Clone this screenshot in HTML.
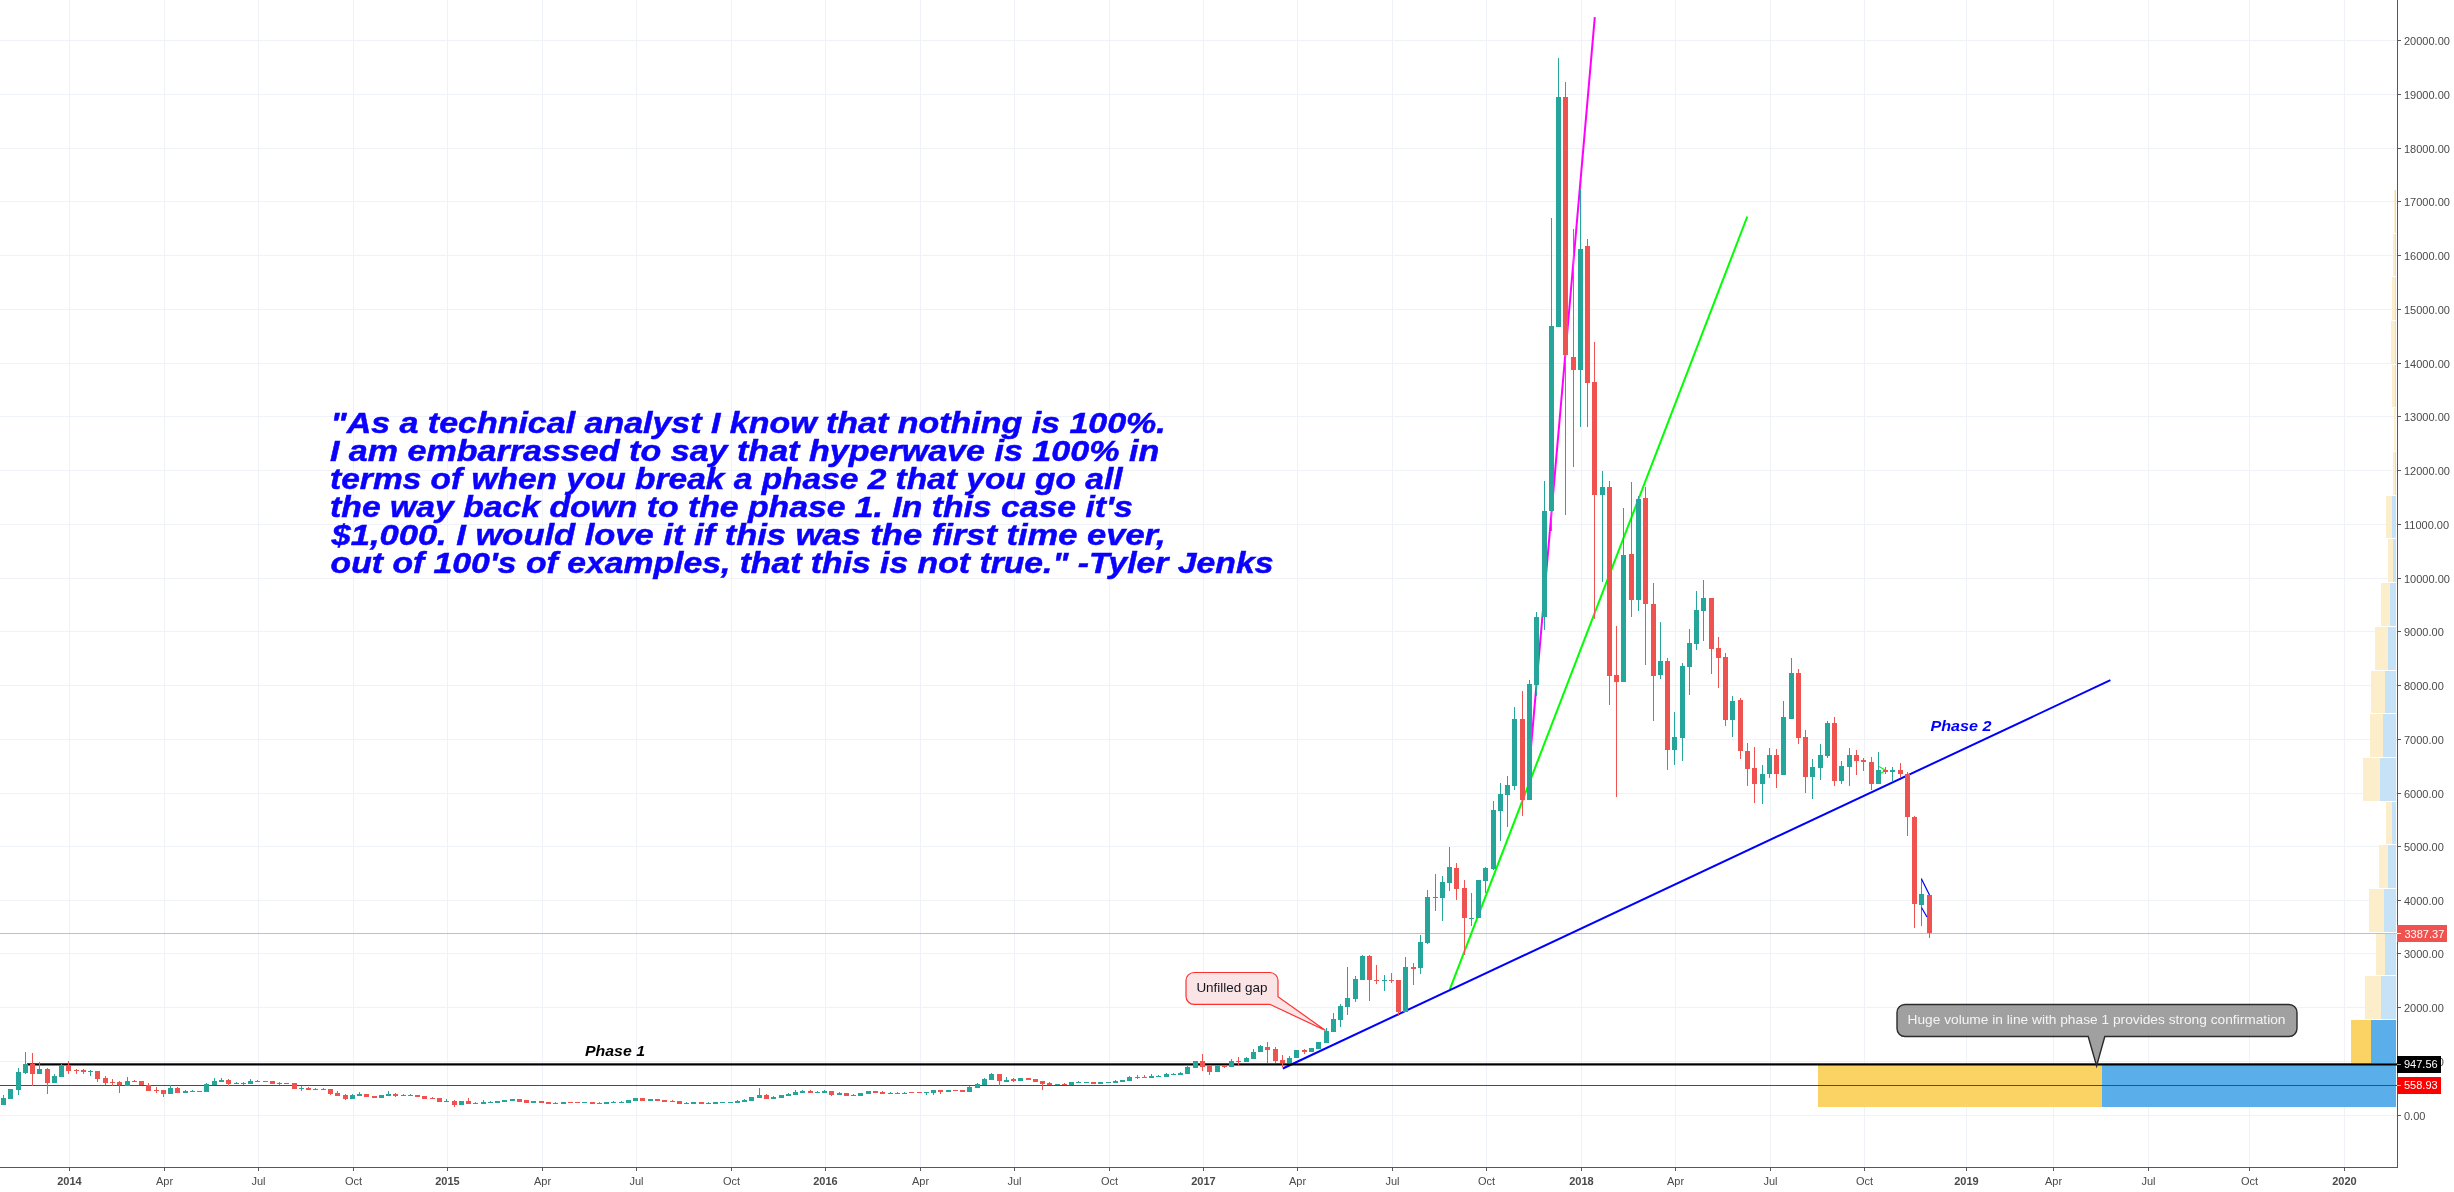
<!DOCTYPE html>
<html><head><meta charset="utf-8"><title>chart</title><style>
html,body{margin:0;padding:0;background:#fff;overflow:hidden;}
svg{display:block;will-change:transform;}
text{font-family:"Liberation Sans",sans-serif;}
</style></head><body>
<svg width="2454" height="1192" viewBox="0 0 2454 1192">
<rect x="0" y="0" width="2454" height="1192" fill="#ffffff"/>
<g fill="#eff2f6" shape-rendering="crispEdges"><rect x="0" y="1115" width="2397" height="1"/><rect x="0" y="1061" width="2397" height="1"/><rect x="0" y="1007" width="2397" height="1"/><rect x="0" y="953" width="2397" height="1"/><rect x="0" y="900" width="2397" height="1"/><rect x="0" y="846" width="2397" height="1"/><rect x="0" y="793" width="2397" height="1"/><rect x="0" y="739" width="2397" height="1"/><rect x="0" y="685" width="2397" height="1"/><rect x="0" y="631" width="2397" height="1"/><rect x="0" y="578" width="2397" height="1"/><rect x="0" y="524" width="2397" height="1"/><rect x="0" y="470" width="2397" height="1"/><rect x="0" y="416" width="2397" height="1"/><rect x="0" y="363" width="2397" height="1"/><rect x="0" y="309" width="2397" height="1"/><rect x="0" y="255" width="2397" height="1"/><rect x="0" y="201" width="2397" height="1"/><rect x="0" y="148" width="2397" height="1"/><rect x="0" y="94" width="2397" height="1"/><rect x="0" y="40" width="2397" height="1"/><rect x="69" y="0" width="1" height="1167"/><rect x="164" y="0" width="1" height="1167"/><rect x="258" y="0" width="1" height="1167"/><rect x="353" y="0" width="1" height="1167"/><rect x="447" y="0" width="1" height="1167"/><rect x="542" y="0" width="1" height="1167"/><rect x="636" y="0" width="1" height="1167"/><rect x="731" y="0" width="1" height="1167"/><rect x="825" y="0" width="1" height="1167"/><rect x="920" y="0" width="1" height="1167"/><rect x="1014" y="0" width="1" height="1167"/><rect x="1109" y="0" width="1" height="1167"/><rect x="1203" y="0" width="1" height="1167"/><rect x="1297" y="0" width="1" height="1167"/><rect x="1392" y="0" width="1" height="1167"/><rect x="1486" y="0" width="1" height="1167"/><rect x="1581" y="0" width="1" height="1167"/><rect x="1675" y="0" width="1" height="1167"/><rect x="1770" y="0" width="1" height="1167"/><rect x="1864" y="0" width="1" height="1167"/><rect x="1966" y="0" width="1" height="1167"/><rect x="2053" y="0" width="1" height="1167"/><rect x="2148" y="0" width="1" height="1167"/><rect x="2249" y="0" width="1" height="1167"/><rect x="2344" y="0" width="1" height="1167"/></g>
<g shape-rendering="crispEdges"><rect x="1818" y="1064" width="284" height="43" fill="#fbd365"/><rect x="2102" y="1064" width="294" height="43" fill="#5aafea"/><rect x="2351" y="1020" width="20" height="43" fill="#fbd365"/><rect x="2371" y="1020" width="25" height="43" fill="#5aafea"/><rect x="2365" y="976" width="16" height="43" fill="#fdeecb"/><rect x="2381" y="976" width="15" height="43" fill="#c6e2f7"/><rect x="2376" y="933" width="9" height="42" fill="#fdeecb"/><rect x="2385" y="933" width="11" height="42" fill="#c6e2f7"/><rect x="2369" y="889" width="15" height="43" fill="#fdeecb"/><rect x="2384" y="889" width="12" height="43" fill="#c6e2f7"/><rect x="2379" y="845" width="9" height="43" fill="#fdeecb"/><rect x="2388" y="845" width="8" height="43" fill="#c6e2f7"/><rect x="2386" y="802" width="6" height="42" fill="#fdeecb"/><rect x="2392" y="802" width="4" height="42" fill="#c6e2f7"/><rect x="2363" y="758" width="17" height="43" fill="#fdeecb"/><rect x="2380" y="758" width="16" height="43" fill="#c6e2f7"/><rect x="2370" y="714" width="13" height="43" fill="#fdeecb"/><rect x="2383" y="714" width="13" height="43" fill="#c6e2f7"/><rect x="2371" y="671" width="14" height="42" fill="#fdeecb"/><rect x="2385" y="671" width="11" height="42" fill="#c6e2f7"/><rect x="2375" y="627" width="13" height="43" fill="#fdeecb"/><rect x="2388" y="627" width="8" height="43" fill="#c6e2f7"/><rect x="2381" y="583" width="9" height="43" fill="#fdeecb"/><rect x="2390" y="583" width="6" height="43" fill="#c6e2f7"/><rect x="2388" y="539" width="5" height="43" fill="#fdeecb"/><rect x="2393" y="539" width="3" height="43" fill="#c6e2f7"/><rect x="2386" y="496" width="6" height="42" fill="#fdeecb"/><rect x="2392" y="496" width="4" height="42" fill="#c6e2f7"/><rect x="2393" y="452" width="2" height="43" fill="#fdeecb"/><rect x="2395" y="452" width="1" height="43" fill="#c6e2f7"/><rect x="2394" y="408" width="2" height="43" fill="#fdeecb"/><rect x="2396" y="408" width="0" height="43" fill="#c6e2f7"/><rect x="2392" y="365" width="3" height="42" fill="#fdeecb"/><rect x="2395" y="365" width="1" height="42" fill="#c6e2f7"/><rect x="2391" y="321" width="4" height="43" fill="#fdeecb"/><rect x="2395" y="321" width="1" height="43" fill="#c6e2f7"/><rect x="2392" y="277" width="3" height="43" fill="#fdeecb"/><rect x="2395" y="277" width="1" height="43" fill="#c6e2f7"/><rect x="2393" y="234" width="2" height="42" fill="#fdeecb"/><rect x="2395" y="234" width="1" height="42" fill="#c6e2f7"/><rect x="2394" y="190" width="1" height="43" fill="#fdeecb"/><rect x="2395" y="190" width="1" height="43" fill="#c6e2f7"/></g>
<rect x="0" y="933" width="2397" height="1" fill="#f7a9a8" shape-rendering="crispEdges"/>
<g fill="none" stroke-width="2" stroke-linecap="butt">
<line x1="1529" y1="770" x2="1594.8" y2="17.1" stroke="#ff00ff"/>
<line x1="1449.8" y1="989.3" x2="1747.3" y2="216.5" stroke="#00ff00"/>
<line x1="1282.8" y1="1068.5" x2="2110.4" y2="680.2" stroke="#0000ff"/>
<line x1="1879" y1="766.4" x2="1885.5" y2="770.3" stroke="#00ff00" stroke-width="1.2"/>
<line x1="1880.5" y1="773.5" x2="1885.5" y2="770.6" stroke="#00ff00" stroke-width="1.2"/>
</g>
<rect x="0" y="1085" width="2397" height="1" fill="#ff0000" shape-rendering="crispEdges"/>
<rect x="27" y="1063.3" width="2370" height="2.2" fill="#000000"/>
<g fill="#26a69a" shape-rendering="crispEdges"><rect x="3" y="1095" width="1" height="3"/><rect x="1" y="1098" width="5" height="7"/><rect x="8" y="1089" width="5" height="10"/><rect x="18" y="1068" width="1" height="4"/><rect x="18" y="1090" width="1" height="5"/><rect x="16" y="1072" width="5" height="18"/><rect x="25" y="1052" width="1" height="12"/><rect x="25" y="1073" width="1" height="1"/><rect x="23" y="1064" width="5" height="9"/><rect x="39" y="1062" width="1" height="7"/><rect x="37" y="1069" width="5" height="5"/><rect x="54" y="1074" width="1" height="2"/><rect x="52" y="1076" width="5" height="7"/><rect x="61" y="1064" width="1" height="2"/><rect x="59" y="1066" width="5" height="11"/><rect x="90" y="1070" width="1" height="1"/><rect x="90" y="1072" width="1" height="4"/><rect x="88" y="1071" width="5" height="1"/><rect x="127" y="1077" width="1" height="4"/><rect x="125" y="1081" width="5" height="5"/><rect x="170" y="1085" width="1" height="3"/><rect x="168" y="1088" width="5" height="6"/><rect x="185" y="1090" width="1" height="1"/><rect x="183" y="1091" width="5" height="2"/><rect x="192" y="1090" width="1" height="1"/><rect x="190" y="1091" width="5" height="1"/><rect x="197" y="1091" width="5" height="1"/><rect x="206" y="1083" width="1" height="1"/><rect x="204" y="1084" width="5" height="8"/><rect x="214" y="1078" width="1" height="3"/><rect x="212" y="1081" width="5" height="4"/><rect x="221" y="1078" width="1" height="2"/><rect x="219" y="1080" width="5" height="2"/><rect x="236" y="1082" width="1" height="1"/><rect x="234" y="1083" width="5" height="1"/><rect x="250" y="1079" width="1" height="2"/><rect x="248" y="1081" width="5" height="3"/><rect x="284" y="1083" width="5" height="1"/><rect x="301" y="1086" width="1" height="2"/><rect x="301" y="1089" width="1" height="2"/><rect x="299" y="1088" width="5" height="1"/><rect x="352" y="1094" width="1" height="1"/><rect x="350" y="1095" width="5" height="4"/><rect x="359" y="1092" width="1" height="2"/><rect x="357" y="1094" width="5" height="2"/><rect x="379" y="1095" width="5" height="3"/><rect x="388" y="1091" width="1" height="3"/><rect x="386" y="1094" width="5" height="2"/><rect x="403" y="1094" width="1" height="1"/><rect x="401" y="1095" width="5" height="1"/><rect x="410" y="1094" width="1" height="1"/><rect x="408" y="1095" width="5" height="1"/><rect x="446" y="1099" width="1" height="2"/><rect x="444" y="1101" width="5" height="1"/><rect x="459" y="1101" width="5" height="4"/><rect x="483" y="1100" width="1" height="2"/><rect x="481" y="1102" width="5" height="2"/><rect x="490" y="1101" width="1" height="1"/><rect x="488" y="1102" width="5" height="1"/><rect x="495" y="1101" width="5" height="2"/><rect x="502" y="1100" width="5" height="2"/><rect x="510" y="1099" width="5" height="2"/><rect x="531" y="1101" width="5" height="2"/><rect x="561" y="1102" width="5" height="2"/><rect x="582" y="1102" width="5" height="1"/><rect x="604" y="1102" width="5" height="2"/><rect x="613" y="1101" width="1" height="1"/><rect x="611" y="1102" width="5" height="1"/><rect x="621" y="1101" width="1" height="1"/><rect x="619" y="1102" width="5" height="1"/><rect x="626" y="1100" width="5" height="3"/><rect x="633" y="1098" width="5" height="3"/><rect x="648" y="1099" width="5" height="2"/><rect x="686" y="1102" width="1" height="1"/><rect x="684" y="1103" width="5" height="1"/><rect x="691" y="1102" width="5" height="2"/><rect x="708" y="1102" width="1" height="1"/><rect x="706" y="1103" width="5" height="1"/><rect x="713" y="1102" width="5" height="2"/><rect x="720" y="1102" width="5" height="1"/><rect x="728" y="1102" width="5" height="1"/><rect x="737" y="1100" width="1" height="1"/><rect x="735" y="1101" width="5" height="2"/><rect x="744" y="1099" width="1" height="1"/><rect x="742" y="1100" width="5" height="2"/><rect x="749" y="1097" width="5" height="4"/><rect x="759" y="1088" width="1" height="7"/><rect x="757" y="1095" width="5" height="3"/><rect x="773" y="1096" width="1" height="1"/><rect x="771" y="1097" width="5" height="2"/><rect x="779" y="1095" width="5" height="3"/><rect x="788" y="1093" width="1" height="1"/><rect x="786" y="1094" width="5" height="2"/><rect x="795" y="1090" width="1" height="2"/><rect x="793" y="1092" width="5" height="3"/><rect x="802" y="1090" width="1" height="1"/><rect x="800" y="1091" width="5" height="2"/><rect x="817" y="1091" width="1" height="1"/><rect x="815" y="1092" width="5" height="1"/><rect x="824" y="1090" width="1" height="1"/><rect x="822" y="1091" width="5" height="2"/><rect x="839" y="1092" width="1" height="1"/><rect x="837" y="1093" width="5" height="2"/><rect x="853" y="1094" width="1" height="1"/><rect x="851" y="1095" width="5" height="1"/><rect x="858" y="1093" width="5" height="3"/><rect x="866" y="1091" width="5" height="3"/><rect x="890" y="1092" width="1" height="1"/><rect x="888" y="1093" width="5" height="1"/><rect x="904" y="1092" width="1" height="1"/><rect x="902" y="1093" width="5" height="1"/><rect x="926" y="1093" width="1" height="2"/><rect x="924" y="1092" width="5" height="1"/><rect x="933" y="1093" width="1" height="2"/><rect x="931" y="1090" width="5" height="3"/><rect x="946" y="1090" width="5" height="2"/><rect x="969" y="1086" width="1" height="1"/><rect x="967" y="1087" width="5" height="5"/><rect x="977" y="1083" width="1" height="1"/><rect x="975" y="1084" width="5" height="4"/><rect x="984" y="1078" width="1" height="1"/><rect x="982" y="1079" width="5" height="6"/><rect x="991" y="1073" width="1" height="1"/><rect x="989" y="1074" width="5" height="6"/><rect x="1006" y="1077" width="1" height="3"/><rect x="1004" y="1080" width="5" height="2"/><rect x="1018" y="1078" width="5" height="3"/><rect x="1055" y="1084" width="5" height="1"/><rect x="1069" y="1082" width="5" height="3"/><rect x="1078" y="1081" width="1" height="1"/><rect x="1076" y="1082" width="5" height="1"/><rect x="1084" y="1082" width="5" height="1"/><rect x="1098" y="1082" width="5" height="2"/><rect x="1106" y="1082" width="5" height="1"/><rect x="1115" y="1080" width="1" height="1"/><rect x="1113" y="1081" width="5" height="2"/><rect x="1120" y="1080" width="5" height="2"/><rect x="1129" y="1076" width="1" height="1"/><rect x="1127" y="1077" width="5" height="4"/><rect x="1137" y="1075" width="1" height="2"/><rect x="1137" y="1078" width="1" height="1"/><rect x="1135" y="1077" width="5" height="1"/><rect x="1151" y="1074" width="1" height="2"/><rect x="1149" y="1076" width="5" height="2"/><rect x="1158" y="1075" width="1" height="1"/><rect x="1156" y="1076" width="5" height="1"/><rect x="1166" y="1073" width="1" height="1"/><rect x="1164" y="1074" width="5" height="3"/><rect x="1173" y="1073" width="1" height="1"/><rect x="1171" y="1074" width="5" height="1"/><rect x="1180" y="1072" width="1" height="1"/><rect x="1178" y="1073" width="5" height="2"/><rect x="1187" y="1065" width="1" height="2"/><rect x="1185" y="1067" width="5" height="7"/><rect x="1193" y="1061" width="5" height="7"/><rect x="1215" y="1065" width="5" height="7"/><rect x="1231" y="1059" width="1" height="2"/><rect x="1229" y="1061" width="5" height="6"/><rect x="1246" y="1057" width="1" height="1"/><rect x="1244" y="1058" width="5" height="4"/><rect x="1253" y="1049" width="1" height="3"/><rect x="1251" y="1052" width="5" height="7"/><rect x="1260" y="1045" width="1" height="1"/><rect x="1258" y="1046" width="5" height="6"/><rect x="1289" y="1056" width="1" height="2"/><rect x="1287" y="1058" width="5" height="5"/><rect x="1294" y="1050" width="5" height="8"/><rect x="1309" y="1048" width="5" height="4"/><rect x="1316" y="1042" width="5" height="7"/><rect x="1326" y="1028" width="1" height="3"/><rect x="1324" y="1031" width="5" height="12"/><rect x="1333" y="1013" width="1" height="6"/><rect x="1331" y="1019" width="5" height="13"/><rect x="1340" y="1004" width="1" height="2"/><rect x="1340" y="1020" width="1" height="7"/><rect x="1338" y="1006" width="5" height="14"/><rect x="1347" y="967" width="1" height="31"/><rect x="1347" y="1007" width="1" height="8"/><rect x="1345" y="998" width="5" height="9"/><rect x="1355" y="976" width="1" height="3"/><rect x="1355" y="999" width="1" height="3"/><rect x="1353" y="979" width="5" height="20"/><rect x="1362" y="955" width="1" height="1"/><rect x="1360" y="956" width="5" height="24"/><rect x="1384" y="975" width="1" height="5"/><rect x="1384" y="981" width="1" height="10"/><rect x="1382" y="980" width="5" height="1"/><rect x="1405" y="957" width="1" height="10"/><rect x="1403" y="967" width="5" height="45"/><rect x="1420" y="935" width="1" height="7"/><rect x="1420" y="968" width="1" height="6"/><rect x="1418" y="942" width="5" height="26"/><rect x="1427" y="890" width="1" height="7"/><rect x="1427" y="943" width="1" height="1"/><rect x="1425" y="897" width="5" height="46"/><rect x="1435" y="874" width="1" height="23"/><rect x="1435" y="898" width="1" height="13"/><rect x="1433" y="897" width="5" height="1"/><rect x="1442" y="876" width="1" height="6"/><rect x="1442" y="898" width="1" height="23"/><rect x="1440" y="882" width="5" height="16"/><rect x="1449" y="847" width="1" height="20"/><rect x="1449" y="883" width="1" height="8"/><rect x="1447" y="867" width="5" height="16"/><rect x="1471" y="893" width="1" height="25"/><rect x="1471" y="919" width="1" height="7"/><rect x="1469" y="918" width="5" height="1"/><rect x="1476" y="880" width="5" height="38"/><rect x="1485" y="867" width="1" height="1"/><rect x="1485" y="881" width="1" height="12"/><rect x="1483" y="868" width="5" height="13"/><rect x="1493" y="801" width="1" height="9"/><rect x="1493" y="869" width="1" height="1"/><rect x="1491" y="810" width="5" height="59"/><rect x="1500" y="783" width="1" height="11"/><rect x="1500" y="811" width="1" height="30"/><rect x="1498" y="794" width="5" height="17"/><rect x="1507" y="776" width="1" height="9"/><rect x="1507" y="795" width="1" height="32"/><rect x="1505" y="785" width="5" height="10"/><rect x="1514" y="707" width="1" height="12"/><rect x="1514" y="786" width="1" height="4"/><rect x="1512" y="719" width="5" height="67"/><rect x="1529" y="680" width="1" height="4"/><rect x="1527" y="684" width="5" height="116"/><rect x="1536" y="612" width="1" height="5"/><rect x="1536" y="685" width="1" height="11"/><rect x="1534" y="617" width="5" height="68"/><rect x="1544" y="481" width="1" height="30"/><rect x="1544" y="617" width="1" height="13"/><rect x="1542" y="511" width="5" height="106"/><rect x="1551" y="218" width="1" height="108"/><rect x="1551" y="511" width="1" height="20"/><rect x="1549" y="326" width="5" height="185"/><rect x="1558" y="58" width="1" height="39"/><rect x="1556" y="97" width="5" height="230"/><rect x="1580" y="189" width="1" height="60"/><rect x="1580" y="370" width="1" height="57"/><rect x="1578" y="249" width="5" height="121"/><rect x="1602" y="471" width="1" height="16"/><rect x="1602" y="495" width="1" height="87"/><rect x="1600" y="487" width="5" height="8"/><rect x="1623" y="508" width="1" height="47"/><rect x="1621" y="555" width="5" height="127"/><rect x="1638" y="496" width="1" height="3"/><rect x="1638" y="600" width="1" height="11"/><rect x="1636" y="499" width="5" height="101"/><rect x="1660" y="622" width="1" height="39"/><rect x="1660" y="675" width="1" height="4"/><rect x="1658" y="661" width="5" height="14"/><rect x="1674" y="712" width="1" height="25"/><rect x="1674" y="750" width="1" height="15"/><rect x="1672" y="737" width="5" height="13"/><rect x="1682" y="663" width="1" height="3"/><rect x="1682" y="738" width="1" height="23"/><rect x="1680" y="666" width="5" height="72"/><rect x="1689" y="629" width="1" height="14"/><rect x="1689" y="667" width="1" height="28"/><rect x="1687" y="643" width="5" height="24"/><rect x="1696" y="591" width="1" height="19"/><rect x="1696" y="644" width="1" height="6"/><rect x="1694" y="610" width="5" height="34"/><rect x="1703" y="580" width="1" height="18"/><rect x="1703" y="611" width="1" height="30"/><rect x="1701" y="598" width="5" height="13"/><rect x="1732" y="696" width="1" height="5"/><rect x="1732" y="720" width="1" height="17"/><rect x="1730" y="701" width="5" height="19"/><rect x="1762" y="765" width="1" height="9"/><rect x="1762" y="784" width="1" height="20"/><rect x="1760" y="774" width="5" height="10"/><rect x="1769" y="748" width="1" height="7"/><rect x="1769" y="774" width="1" height="4"/><rect x="1767" y="755" width="5" height="19"/><rect x="1783" y="701" width="1" height="16"/><rect x="1781" y="717" width="5" height="58"/><rect x="1791" y="658" width="1" height="15"/><rect x="1789" y="673" width="5" height="46"/><rect x="1812" y="759" width="1" height="8"/><rect x="1812" y="777" width="1" height="22"/><rect x="1810" y="767" width="5" height="10"/><rect x="1820" y="744" width="1" height="11"/><rect x="1820" y="768" width="1" height="12"/><rect x="1818" y="755" width="5" height="13"/><rect x="1827" y="721" width="1" height="2"/><rect x="1827" y="756" width="1" height="2"/><rect x="1825" y="723" width="5" height="33"/><rect x="1841" y="761" width="1" height="5"/><rect x="1841" y="781" width="1" height="3"/><rect x="1839" y="766" width="5" height="15"/><rect x="1849" y="748" width="1" height="7"/><rect x="1849" y="767" width="1" height="19"/><rect x="1847" y="755" width="5" height="12"/><rect x="1878" y="752" width="1" height="18"/><rect x="1876" y="770" width="5" height="14"/><rect x="1892" y="767" width="1" height="3"/><rect x="1892" y="772" width="1" height="9"/><rect x="1890" y="770" width="5" height="2"/><rect x="1921" y="878" width="1" height="16"/><rect x="1921" y="905" width="1" height="21"/><rect x="1919" y="894" width="5" height="11"/></g>
<g fill="#ef5350" shape-rendering="crispEdges"><rect x="32" y="1053" width="1" height="11"/><rect x="32" y="1074" width="1" height="12"/><rect x="30" y="1064" width="5" height="10"/><rect x="47" y="1068" width="1" height="1"/><rect x="47" y="1083" width="1" height="11"/><rect x="45" y="1069" width="5" height="14"/><rect x="68" y="1061" width="1" height="5"/><rect x="68" y="1071" width="1" height="3"/><rect x="66" y="1066" width="5" height="5"/><rect x="76" y="1069" width="1" height="1"/><rect x="76" y="1071" width="1" height="3"/><rect x="74" y="1070" width="5" height="1"/><rect x="83" y="1069" width="1" height="1"/><rect x="83" y="1072" width="1" height="2"/><rect x="81" y="1070" width="5" height="2"/><rect x="97" y="1079" width="1" height="3"/><rect x="95" y="1071" width="5" height="8"/><rect x="105" y="1076" width="1" height="2"/><rect x="105" y="1083" width="1" height="2"/><rect x="103" y="1078" width="5" height="5"/><rect x="112" y="1079" width="1" height="3"/><rect x="112" y="1083" width="1" height="3"/><rect x="110" y="1082" width="5" height="1"/><rect x="119" y="1081" width="1" height="1"/><rect x="119" y="1085" width="1" height="8"/><rect x="117" y="1082" width="5" height="3"/><rect x="134" y="1080" width="1" height="1"/><rect x="132" y="1081" width="5" height="1"/><rect x="139" y="1081" width="5" height="4"/><rect x="148" y="1083" width="1" height="2"/><rect x="146" y="1085" width="5" height="6"/><rect x="156" y="1087" width="1" height="3"/><rect x="156" y="1091" width="1" height="2"/><rect x="154" y="1090" width="5" height="1"/><rect x="163" y="1094" width="1" height="3"/><rect x="161" y="1090" width="5" height="4"/><rect x="177" y="1087" width="1" height="1"/><rect x="175" y="1088" width="5" height="5"/><rect x="228" y="1079" width="1" height="1"/><rect x="228" y="1084" width="1" height="2"/><rect x="226" y="1080" width="5" height="4"/><rect x="243" y="1082" width="1" height="1"/><rect x="243" y="1084" width="1" height="1"/><rect x="241" y="1083" width="5" height="1"/><rect x="257" y="1080" width="1" height="1"/><rect x="255" y="1081" width="5" height="1"/><rect x="263" y="1081" width="5" height="1"/><rect x="270" y="1081" width="5" height="3"/><rect x="279" y="1082" width="1" height="1"/><rect x="279" y="1084" width="1" height="1"/><rect x="277" y="1083" width="5" height="1"/><rect x="292" y="1083" width="5" height="6"/><rect x="308" y="1087" width="1" height="1"/><rect x="306" y="1088" width="5" height="2"/><rect x="315" y="1088" width="1" height="1"/><rect x="313" y="1089" width="5" height="1"/><rect x="323" y="1088" width="1" height="1"/><rect x="321" y="1089" width="5" height="1"/><rect x="330" y="1094" width="1" height="1"/><rect x="328" y="1089" width="5" height="5"/><rect x="337" y="1091" width="1" height="2"/><rect x="335" y="1093" width="5" height="3"/><rect x="345" y="1094" width="1" height="1"/><rect x="345" y="1099" width="1" height="1"/><rect x="343" y="1095" width="5" height="4"/><rect x="364" y="1094" width="5" height="3"/><rect x="372" y="1096" width="5" height="2"/><rect x="395" y="1093" width="1" height="1"/><rect x="395" y="1096" width="1" height="1"/><rect x="393" y="1094" width="5" height="2"/><rect x="415" y="1095" width="5" height="2"/><rect x="422" y="1096" width="5" height="3"/><rect x="432" y="1097" width="1" height="1"/><rect x="430" y="1098" width="5" height="1"/><rect x="437" y="1098" width="5" height="4"/><rect x="454" y="1100" width="1" height="1"/><rect x="454" y="1105" width="1" height="2"/><rect x="452" y="1101" width="5" height="4"/><rect x="468" y="1098" width="1" height="3"/><rect x="466" y="1101" width="5" height="3"/><rect x="475" y="1102" width="1" height="1"/><rect x="473" y="1103" width="5" height="1"/><rect x="517" y="1099" width="5" height="3"/><rect x="524" y="1100" width="5" height="3"/><rect x="539" y="1101" width="5" height="2"/><rect x="546" y="1102" width="5" height="2"/><rect x="555" y="1102" width="1" height="1"/><rect x="553" y="1103" width="5" height="1"/><rect x="568" y="1102" width="5" height="1"/><rect x="575" y="1102" width="5" height="1"/><rect x="590" y="1102" width="5" height="2"/><rect x="599" y="1102" width="1" height="1"/><rect x="597" y="1103" width="5" height="1"/><rect x="640" y="1098" width="5" height="3"/><rect x="655" y="1099" width="5" height="2"/><rect x="662" y="1100" width="5" height="2"/><rect x="672" y="1100" width="1" height="1"/><rect x="670" y="1101" width="5" height="1"/><rect x="677" y="1101" width="5" height="3"/><rect x="699" y="1102" width="5" height="2"/><rect x="766" y="1094" width="1" height="1"/><rect x="764" y="1095" width="5" height="4"/><rect x="810" y="1090" width="1" height="1"/><rect x="808" y="1091" width="5" height="2"/><rect x="831" y="1095" width="1" height="1"/><rect x="829" y="1091" width="5" height="4"/><rect x="844" y="1093" width="5" height="3"/><rect x="873" y="1091" width="5" height="2"/><rect x="882" y="1091" width="1" height="1"/><rect x="880" y="1092" width="5" height="2"/><rect x="897" y="1092" width="1" height="1"/><rect x="895" y="1093" width="5" height="1"/><rect x="909" y="1092" width="5" height="1"/><rect x="917" y="1092" width="5" height="1"/><rect x="940" y="1092" width="1" height="2"/><rect x="938" y="1090" width="5" height="2"/><rect x="953" y="1090" width="5" height="1"/><rect x="960" y="1090" width="5" height="2"/><rect x="999" y="1081" width="1" height="5"/><rect x="997" y="1074" width="5" height="7"/><rect x="1013" y="1078" width="1" height="1"/><rect x="1013" y="1081" width="1" height="1"/><rect x="1011" y="1079" width="5" height="2"/><rect x="1026" y="1078" width="5" height="2"/><rect x="1033" y="1079" width="5" height="3"/><rect x="1042" y="1084" width="1" height="6"/><rect x="1040" y="1081" width="5" height="3"/><rect x="1049" y="1082" width="1" height="1"/><rect x="1047" y="1083" width="5" height="2"/><rect x="1064" y="1083" width="1" height="1"/><rect x="1062" y="1084" width="5" height="1"/><rect x="1091" y="1082" width="5" height="2"/><rect x="1144" y="1075" width="1" height="2"/><rect x="1142" y="1077" width="5" height="1"/><rect x="1202" y="1054" width="1" height="7"/><rect x="1202" y="1067" width="1" height="4"/><rect x="1200" y="1061" width="5" height="6"/><rect x="1209" y="1072" width="1" height="3"/><rect x="1207" y="1066" width="5" height="6"/><rect x="1224" y="1067" width="1" height="1"/><rect x="1222" y="1065" width="5" height="2"/><rect x="1238" y="1057" width="1" height="4"/><rect x="1238" y="1062" width="1" height="4"/><rect x="1236" y="1061" width="5" height="1"/><rect x="1267" y="1042" width="1" height="5"/><rect x="1267" y="1050" width="1" height="13"/><rect x="1265" y="1047" width="5" height="3"/><rect x="1275" y="1047" width="1" height="2"/><rect x="1275" y="1061" width="1" height="2"/><rect x="1273" y="1049" width="5" height="12"/><rect x="1282" y="1055" width="1" height="5"/><rect x="1282" y="1063" width="1" height="4"/><rect x="1280" y="1060" width="5" height="3"/><rect x="1304" y="1049" width="1" height="1"/><rect x="1304" y="1052" width="1" height="2"/><rect x="1302" y="1050" width="5" height="2"/><rect x="1369" y="955" width="1" height="1"/><rect x="1369" y="980" width="1" height="21"/><rect x="1367" y="956" width="5" height="24"/><rect x="1376" y="965" width="1" height="15"/><rect x="1376" y="981" width="1" height="3"/><rect x="1374" y="980" width="5" height="1"/><rect x="1391" y="973" width="1" height="7"/><rect x="1391" y="981" width="1" height="2"/><rect x="1389" y="980" width="5" height="1"/><rect x="1398" y="1012" width="1" height="4"/><rect x="1396" y="980" width="5" height="32"/><rect x="1413" y="963" width="1" height="4"/><rect x="1413" y="969" width="1" height="16"/><rect x="1411" y="967" width="5" height="2"/><rect x="1456" y="863" width="1" height="5"/><rect x="1456" y="889" width="1" height="11"/><rect x="1454" y="868" width="5" height="21"/><rect x="1464" y="880" width="1" height="8"/><rect x="1464" y="918" width="1" height="37"/><rect x="1462" y="888" width="5" height="30"/><rect x="1522" y="691" width="1" height="28"/><rect x="1522" y="800" width="1" height="16"/><rect x="1520" y="719" width="5" height="81"/><rect x="1565" y="82" width="1" height="15"/><rect x="1565" y="355" width="1" height="160"/><rect x="1563" y="97" width="5" height="258"/><rect x="1573" y="229" width="1" height="128"/><rect x="1573" y="370" width="1" height="97"/><rect x="1571" y="357" width="5" height="13"/><rect x="1587" y="239" width="1" height="7"/><rect x="1587" y="383" width="1" height="44"/><rect x="1585" y="246" width="5" height="137"/><rect x="1594" y="342" width="1" height="40"/><rect x="1594" y="495" width="1" height="124"/><rect x="1592" y="382" width="5" height="113"/><rect x="1609" y="481" width="1" height="6"/><rect x="1609" y="676" width="1" height="29"/><rect x="1607" y="487" width="5" height="189"/><rect x="1616" y="626" width="1" height="49"/><rect x="1616" y="682" width="1" height="115"/><rect x="1614" y="675" width="5" height="7"/><rect x="1631" y="482" width="1" height="72"/><rect x="1631" y="600" width="1" height="17"/><rect x="1629" y="554" width="5" height="46"/><rect x="1645" y="487" width="1" height="11"/><rect x="1645" y="604" width="1" height="61"/><rect x="1643" y="498" width="5" height="106"/><rect x="1653" y="583" width="1" height="21"/><rect x="1653" y="676" width="1" height="45"/><rect x="1651" y="604" width="5" height="72"/><rect x="1667" y="658" width="1" height="3"/><rect x="1667" y="750" width="1" height="20"/><rect x="1665" y="661" width="5" height="89"/><rect x="1711" y="649" width="1" height="25"/><rect x="1709" y="598" width="5" height="51"/><rect x="1718" y="637" width="1" height="11"/><rect x="1718" y="658" width="1" height="30"/><rect x="1716" y="648" width="5" height="10"/><rect x="1725" y="653" width="1" height="4"/><rect x="1725" y="720" width="1" height="6"/><rect x="1723" y="657" width="5" height="63"/><rect x="1740" y="698" width="1" height="2"/><rect x="1740" y="751" width="1" height="8"/><rect x="1738" y="700" width="5" height="51"/><rect x="1747" y="743" width="1" height="8"/><rect x="1747" y="769" width="1" height="17"/><rect x="1745" y="751" width="5" height="18"/><rect x="1754" y="747" width="1" height="21"/><rect x="1754" y="784" width="1" height="19"/><rect x="1752" y="768" width="5" height="16"/><rect x="1776" y="749" width="1" height="6"/><rect x="1776" y="774" width="1" height="14"/><rect x="1774" y="755" width="5" height="19"/><rect x="1798" y="669" width="1" height="4"/><rect x="1798" y="738" width="1" height="6"/><rect x="1796" y="673" width="5" height="65"/><rect x="1805" y="730" width="1" height="7"/><rect x="1805" y="777" width="1" height="16"/><rect x="1803" y="737" width="5" height="40"/><rect x="1834" y="717" width="1" height="6"/><rect x="1834" y="781" width="1" height="5"/><rect x="1832" y="723" width="5" height="58"/><rect x="1856" y="750" width="1" height="5"/><rect x="1856" y="761" width="1" height="14"/><rect x="1854" y="755" width="5" height="6"/><rect x="1863" y="758" width="1" height="2"/><rect x="1863" y="762" width="1" height="9"/><rect x="1861" y="760" width="5" height="2"/><rect x="1871" y="757" width="1" height="5"/><rect x="1871" y="784" width="1" height="6"/><rect x="1869" y="762" width="5" height="22"/><rect x="1885" y="767" width="1" height="3"/><rect x="1885" y="772" width="1" height="2"/><rect x="1883" y="770" width="5" height="2"/><rect x="1900" y="763" width="1" height="7"/><rect x="1900" y="774" width="1" height="4"/><rect x="1898" y="770" width="5" height="4"/><rect x="1907" y="772" width="1" height="2"/><rect x="1907" y="817" width="1" height="19"/><rect x="1905" y="774" width="5" height="43"/><rect x="1914" y="816" width="1" height="1"/><rect x="1914" y="904" width="1" height="24"/><rect x="1912" y="817" width="5" height="87"/><rect x="1929" y="933" width="1" height="5"/><rect x="1927" y="895" width="5" height="38"/></g>
<g stroke="#0000ff" stroke-width="1.2" fill="none">
<line x1="1921.5" y1="879" x2="1929.5" y2="895"/>
<line x1="1921.5" y1="907.5" x2="1927" y2="917"/>
</g>
<g fill="#585858" shape-rendering="crispEdges">
<rect x="2397" y="0" width="1" height="1168"/>
<rect x="0" y="1167" width="2397" height="1"/>
<rect x="2398" y="1115" width="3" height="1"/>
<rect x="2398" y="1061" width="3" height="1"/>
<rect x="2398" y="1007" width="3" height="1"/>
<rect x="2398" y="953" width="3" height="1"/>
<rect x="2398" y="900" width="3" height="1"/>
<rect x="2398" y="846" width="3" height="1"/>
<rect x="2398" y="793" width="3" height="1"/>
<rect x="2398" y="739" width="3" height="1"/>
<rect x="2398" y="685" width="3" height="1"/>
<rect x="2398" y="631" width="3" height="1"/>
<rect x="2398" y="578" width="3" height="1"/>
<rect x="2398" y="524" width="3" height="1"/>
<rect x="2398" y="470" width="3" height="1"/>
<rect x="2398" y="416" width="3" height="1"/>
<rect x="2398" y="363" width="3" height="1"/>
<rect x="2398" y="309" width="3" height="1"/>
<rect x="2398" y="255" width="3" height="1"/>
<rect x="2398" y="201" width="3" height="1"/>
<rect x="2398" y="148" width="3" height="1"/>
<rect x="2398" y="94" width="3" height="1"/>
<rect x="2398" y="40" width="3" height="1"/>
<rect x="69" y="1168" width="1" height="3"/>
<rect x="164" y="1168" width="1" height="3"/>
<rect x="258" y="1168" width="1" height="3"/>
<rect x="353" y="1168" width="1" height="3"/>
<rect x="447" y="1168" width="1" height="3"/>
<rect x="542" y="1168" width="1" height="3"/>
<rect x="636" y="1168" width="1" height="3"/>
<rect x="731" y="1168" width="1" height="3"/>
<rect x="825" y="1168" width="1" height="3"/>
<rect x="920" y="1168" width="1" height="3"/>
<rect x="1014" y="1168" width="1" height="3"/>
<rect x="1109" y="1168" width="1" height="3"/>
<rect x="1203" y="1168" width="1" height="3"/>
<rect x="1297" y="1168" width="1" height="3"/>
<rect x="1392" y="1168" width="1" height="3"/>
<rect x="1486" y="1168" width="1" height="3"/>
<rect x="1581" y="1168" width="1" height="3"/>
<rect x="1675" y="1168" width="1" height="3"/>
<rect x="1770" y="1168" width="1" height="3"/>
<rect x="1864" y="1168" width="1" height="3"/>
<rect x="1966" y="1168" width="1" height="3"/>
<rect x="2053" y="1168" width="1" height="3"/>
<rect x="2148" y="1168" width="1" height="3"/>
<rect x="2249" y="1168" width="1" height="3"/>
<rect x="2344" y="1168" width="1" height="3"/>
</g>
<g font-size="11" fill="#4a4a4a">
<text x="2404" y="1119.5">0.00</text>
<text x="2404" y="1065.5">1000.00</text>
<text x="2404" y="1011.5">2000.00</text>
<text x="2404" y="957.5">3000.00</text>
<text x="2404" y="904.5">4000.00</text>
<text x="2404" y="850.5">5000.00</text>
<text x="2404" y="797.5">6000.00</text>
<text x="2404" y="743.5">7000.00</text>
<text x="2404" y="689.5">8000.00</text>
<text x="2404" y="635.5">9000.00</text>
<text x="2404" y="582.5">10000.00</text>
<text x="2404" y="528.5">11000.00</text>
<text x="2404" y="474.5">12000.00</text>
<text x="2404" y="420.5">13000.00</text>
<text x="2404" y="367.5">14000.00</text>
<text x="2404" y="313.5">15000.00</text>
<text x="2404" y="259.5">16000.00</text>
<text x="2404" y="205.5">17000.00</text>
<text x="2404" y="152.5">18000.00</text>
<text x="2404" y="98.5">19000.00</text>
<text x="2404" y="44.5">20000.00</text>
</g>
<g font-size="11" fill="#4a4a4a" text-anchor="middle">
<text x="69.5" y="1184.6" font-weight="bold">2014</text>
<text x="164.5" y="1184.6">Apr</text>
<text x="258.5" y="1184.6">Jul</text>
<text x="353.5" y="1184.6">Oct</text>
<text x="447.5" y="1184.6" font-weight="bold">2015</text>
<text x="542.5" y="1184.6">Apr</text>
<text x="636.5" y="1184.6">Jul</text>
<text x="731.5" y="1184.6">Oct</text>
<text x="825.5" y="1184.6" font-weight="bold">2016</text>
<text x="920.5" y="1184.6">Apr</text>
<text x="1014.5" y="1184.6">Jul</text>
<text x="1109.5" y="1184.6">Oct</text>
<text x="1203.5" y="1184.6" font-weight="bold">2017</text>
<text x="1297.5" y="1184.6">Apr</text>
<text x="1392.5" y="1184.6">Jul</text>
<text x="1486.5" y="1184.6">Oct</text>
<text x="1581.5" y="1184.6" font-weight="bold">2018</text>
<text x="1675.5" y="1184.6">Apr</text>
<text x="1770.5" y="1184.6">Jul</text>
<text x="1864.5" y="1184.6">Oct</text>
<text x="1966.5" y="1184.6" font-weight="bold">2019</text>
<text x="2053.5" y="1184.6">Apr</text>
<text x="2148.5" y="1184.6">Jul</text>
<text x="2249.5" y="1184.6">Oct</text>
<text x="2344.5" y="1184.6" font-weight="bold">2020</text>
</g>
<rect x="2397" y="925" width="50" height="17" fill="#ef5350"/>
<rect x="2397" y="933" width="4" height="1" fill="#ffffff"/>
<text x="2404.5" y="937.5" font-size="11" fill="#ffffff">3387.37</text>
<rect x="2397" y="1056" width="44" height="17" fill="#000000"/>
<rect x="2397" y="1064" width="4" height="1" fill="#9a9a9a"/>
<text x="2404" y="1068.3" font-size="11" fill="#ffffff">947.56</text>
<rect x="2397" y="1077" width="44" height="17" fill="#ff0000"/>
<rect x="2397" y="1085" width="4" height="1" fill="#ffb0b0"/>
<text x="2404" y="1089.3" font-size="11" fill="#ffffff">558.93</text>
<path d="M1194,972.5 H1270 A8,8 0 0 1 1278,980.5 V996.7 L1325.5,1030.5 L1269.7,1004.3 H1194 A8,8 0 0 1 1186,996.3 V980.5 A8,8 0 0 1 1194,972.5 Z" fill="#fbe4e5" stroke="#ff3030" stroke-width="1.2"/>
<text x="1196.4" y="992" font-size="13" fill="#131722" textLength="71" lengthAdjust="spacingAndGlyphs">Unfilled gap</text>
<path d="M1905,1004.5 H2289 A8,8 0 0 1 2297,1012.5 V1028.5 A8,8 0 0 1 2289,1036.5 H2104.8 L2096.6,1066 L2088.2,1036.5 H1905 A8,8 0 0 1 1897,1028.5 V1012.5 A8,8 0 0 1 1905,1004.5 Z" fill="rgba(128,128,128,0.75)" stroke="#2b2b2b" stroke-width="1.4"/>
<text x="1907.5" y="1024" font-size="12.5" fill="#f4f4f4" textLength="378" lengthAdjust="spacingAndGlyphs">Huge volume in line with phase 1 provides strong confirmation</text>
<text x="585" y="1056" font-size="14" font-weight="bold" font-style="italic" fill="#000000" textLength="60" lengthAdjust="spacingAndGlyphs">Phase 1</text>
<text x="1930.5" y="731" font-size="14" font-weight="bold" font-style="italic" fill="#0000ff" textLength="61" lengthAdjust="spacingAndGlyphs">Phase 2</text>
<g font-size="29.5" font-weight="bold" font-style="italic" fill="#0a00ff" stroke="#0a00ff" stroke-width="0.5">
<text x="330.6" y="432.6" textLength="835.1" lengthAdjust="spacingAndGlyphs">&quot;As a technical analyst I know that nothing is 100%.</text>
<text x="329.9" y="460.6" textLength="829.3" lengthAdjust="spacingAndGlyphs">I am embarrassed to say that hyperwave is 100% in</text>
<text x="330.1" y="488.7" textLength="792.4" lengthAdjust="spacingAndGlyphs">terms of when you break a phase 2 that you go all</text>
<text x="330.1" y="516.7" textLength="802.7" lengthAdjust="spacingAndGlyphs">the way back down to the phase 1. In this case it's</text>
<text x="331.6" y="544.8" textLength="834.1" lengthAdjust="spacingAndGlyphs">$1,000. I would love it if this was the first time ever,</text>
<text x="330.6" y="572.8" textLength="942.8" lengthAdjust="spacingAndGlyphs">out of 100's of examples, that this is not true.&quot; -Tyler Jenks</text>
</g>
</svg></body></html>
